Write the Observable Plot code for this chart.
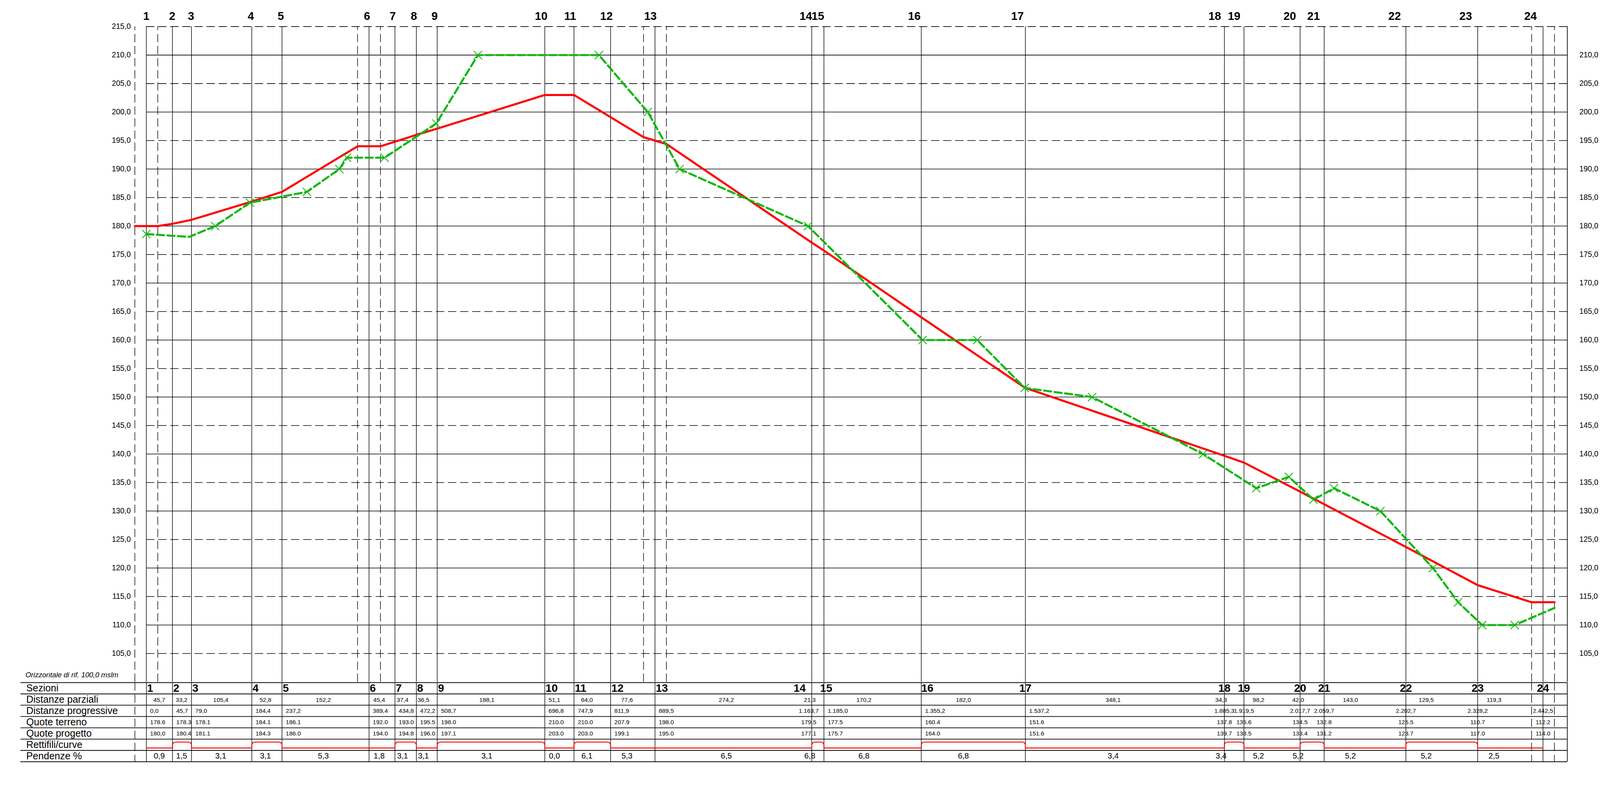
<!DOCTYPE html>
<html>
<head>
<meta charset="utf-8">
<script src="https://cdn.jsdelivr.net/npm/d3@7"></script>
<script src="https://cdn.jsdelivr.net/npm/@observablehq/plot@0.6"></script>
<style>
  html, body { margin: 0; padding: 0; background: #fff; }
  #chart svg { display: block; }
</style>
</head>
<body>
<div id="chart"></div>
<script>
// ---------------- DATA ----------------
const sectionNames = ["1","2","3","4","5","6","7","8","9","10","11","12","13","14","15","16","17","18","19","20","21","22","23","24"];
const progressive = [0.0, 45.7, 79.0, 184.4, 237.2, 389.4, 434.8, 472.2, 508.7, 696.8, 747.9, 811.9, 889.5, 1163.7, 1185.0, 1355.2, 1537.2, 1885.3, 1919.5, 2017.7, 2059.7, 2202.7, 2328.2, 2442.5];
const partial = [45.7, 33.2, 105.4, 52.8, 152.2, 45.4, 37.4, 36.5, 188.1, 51.1, 64.0, 77.6, 274.2, 21.3, 170.2, 182.0, 348.1, 34.3, 98.2, 42.0, 143.0, 129.5, 119.3];
const groundLevel = [178.6, 178.3, 178.1, 184.1, 186.1, 192.0, 193.0, 195.5, 198.0, 210.0, 210.0, 207.9, 198.0, 179.5, 177.5, 160.4, 151.6, 137.8, 135.6, 134.5, 132.8, 125.5, 110.7, 112.2];
const designLevel = [180.0, 180.4, 181.1, 184.3, 186.0, 194.0, 194.8, 196.0, 197.1, 203.0, 203.0, 199.1, 195.0, 177.1, 175.7, 164.0, 151.6, 139.7, 138.5, 133.4, 131.2, 123.7, 117.0, 114.0];
const slopes = [0.9, 1.5, 3.1, 3.1, 5.3, 1.8, 3.1, 3.1, 3.1, 0.0, 6.1, 5.3, 6.5, 6.8, 6.8, 6.8, 3.4, 3.4, 5.2, 5.2, 5.2, 5.2, 2.5];
const curvePairs = [[2,3],[4,5],[7,8],[9,10],[11,12],[14,15],[16,17],[18,19],[20,21],[22,23]];

// project profile (red) vertices
const profileD = [-20, 0, 20, 45.7, 79.0, 184.4, 237.2, 369.4, 389.4, 409.4, 434.8, 472.2, 508.7, 696.8, 747.9, 811.9, 869.5, 889.5, 909.5, 1163.7, 1185.0, 1355.2, 1537.2, 1885.3, 1919.5, 2017.7, 2059.7, 2202.7, 2328.2, 2422.5, 2442.5, 2462.5];
const profileZ = [180.0, 180.0, 180.0, 180.4, 181.1, 184.3, 186.0, 194.0, 194.0, 194.0, 194.8, 196.0, 197.1, 203.0, 203.0, 199.1, 195.6, 195.0, 194.4, 177.1, 175.7, 164.0, 151.6, 139.7, 138.5, 133.4, 131.2, 123.7, 117.0, 114.0, 114.0, 114.0];

// ground profile (green) vertices
const groundD = [0, 75, 120.4, 181.3, 280.8, 337.6, 350.7, 416.6, 507.1, 579.8, 791.5, 877, 932.6, 1157.2, 1357.4, 1453.1, 1536, 1654, 1848, 1941, 1998, 2041, 2077, 2158, 2250, 2294, 2336, 2393, 2462.5];
const groundZ = [178.6, 178.1, 180.0, 184.1, 186.0, 190.0, 192.0, 192.0, 198.0, 210.0, 210.0, 200.0, 190.0, 180.0, 160.0, 160.0, 151.6, 150.0, 140.0, 134.0, 136.0, 132.0, 134.0, 130.0, 120.0, 114.0, 110.0, 110.0, 113.0];
const groundMark = [true, false, true, true, true, true, true, true, true, true, true, true, true, true, true, true, true, true, true, true, true, true, true, true, true, true, true, true, false];

const tangentD = [20, 369.4, 409.4, 869.5, 909.5];
const limitD = [-20, 2422.5, 2462.5];
const endD = 2485;

const yTicks = [215, 210, 205, 200, 195, 190, 185, 180, 175, 170, 165, 160, 155, 150, 145, 140, 135, 130, 125, 120, 115, 110, 105];
const rowNames = ["Sezioni", "Distanze parziali", "Distanze progressive", "Quote terreno", "Quote progetto", "Rettifili/curve", "Pendenze %"];
const datumLabel = "Orizzontale di rif. 100,0 mslm";

// ---------------- HELPERS ----------------
const it = d3.formatLocale({decimal: ",", thousands: ".", grouping: [3], currency: ["", ""]});
const fDist = it.format(",.1f");
const fComma = it.format(".1f");
const fDot = d3.format(".1f");

const FONT = "'Liberation Sans', Arial, Helvetica, sans-serif";
const INK = "#000";
const DASH = "22,10";
const RED = "#ff0000";
const GREEN = "#10b810";
const xScale = {domain: [-219.9, endD], range: [54, 4153], axis: null};

const profile = profileD.map((d, i) => ({d, z: profileZ[i]}));
const ground = groundD.map((d, i) => ({d, z: groundZ[i], mark: groundMark[i]}));
const sectionIdx = d3.range(sectionNames.length);
const intervalIdx = d3.range(sectionNames.length - 1);

function roundedTop(radius) {
  return function(context) {
    let pts = [];
    return {
      areaStart() {}, areaEnd() {},
      lineStart() { pts = []; },
      point(x, y) { pts.push([+x, +y]); },
      lineEnd() {
        if (!pts.length) return;
        context.moveTo(pts[0][0], pts[0][1]);
        for (let i = 1; i < pts.length - 1; i++) {
          const [, py] = pts[i - 1], [x, y] = pts[i], [nx, ny] = pts[i + 1];
          const top = y <= py && y <= ny && (y < py || y < ny);
          if (top) context.arcTo(x, y, nx, ny, radius); else context.lineTo(x, y);
        }
        const last = pts[pts.length - 1];
        context.lineTo(last[0], last[1]);
      }
    };
  };
}

function textGroups(indices, rule, base) {
  return d3.groups(indices, rule).map(([key, idx]) => {
    const [anchor, dx] = key.split("|");
    return Plot.text(idx, {...base, textAnchor: anchor, dx: +dx});
  });
}
const sezRule = i => i <= 12 ? "start|2" : i === 13 ? "end|-16" : i === 14 ? "middle|6" : i === 15 ? "start|0" : "middle|0";
const valRule = i => (i <= 12 || (i >= 14 && i <= 16)) ? "start|10" : i === 13 ? "middle|-8" : "middle|0";
const midD = i => (progressive[i] + progressive[i + 1]) / 2 * 0.988;

// ---------------- PROFILE CHART ----------------
const chart = Plot.plot({
  width: 4240, height: 1808,
  marginTop: 70, marginBottom: 0, marginLeft: 54, marginRight: 87,
  x: xScale,
  y: {domain: [100, 215], range: [1808, 70], axis: null},
  style: {fontFamily: FONT, background: "#fff", overflow: "visible", color: INK},
  marks: [
    Plot.ruleY(yTicks.filter(v => v % 10 === 0), {y: v => v, x1: () => progressive[0], x2: () => endD, stroke: INK, strokeWidth: 1.6}),
    Plot.ruleY(yTicks.filter(v => v % 10 !== 0), {y: v => v, x1: () => progressive[0], x2: () => endD, stroke: INK, strokeWidth: 1.6, strokeDasharray: DASH}),
    Plot.ruleX(progressive, {x: d => d, y1: () => 100, y2: () => 215, stroke: INK, strokeWidth: 1.5}),
    Plot.ruleX(tangentD.concat(limitD), {x: d => d, y1: () => 100, y2: () => 215, stroke: INK, strokeWidth: 1.5, strokeDasharray: DASH}),
    Plot.ruleX([endD], {x: d => d, y1: () => 100, y2: () => 215, stroke: INK, strokeWidth: 1.8}),
    Plot.line(profile, {x: "d", y: "z", stroke: RED, strokeWidth: 5.5, strokeLinejoin: "round"}),
    Plot.line(ground, {x: "d", y: "z", stroke: GREEN, strokeWidth: 5.5, strokeDasharray: "19,9"}),
    Plot.dot(ground.filter(p => p.mark), {x: "d", y: "z", symbol: "times", r: 10, stroke: GREEN, strokeWidth: 2.2}),
    Plot.text(sectionNames, {x: (s, i) => progressive[i] * 0.991, y: () => 215, text: s => s, lineAnchor: "bottom", dy: -18, fontSize: 30, fontWeight: "bold", fill: "#000"}),
    Plot.text(yTicks, {x: () => limitD[0], y: v => v, text: v => fComma(v), textAnchor: "end", dx: -11, fontSize: 20, fill: "#000"}),
    Plot.text(yTicks.filter(v => v < 215), {x: () => endD, y: v => v, text: v => fComma(v), textAnchor: "start", dx: 32, fontSize: 20, fill: "#000"}),
    Plot.text([datumLabel], {frameAnchor: "bottom-left", text: d => d, textAnchor: "start", dx: 13, dy: -13, fontSize: 19, fontStyle: "italic", fill: "#000"})
  ]
});

// ---------------- TABLE ----------------
const LOW = 5.78, HIGH = 5.26;
const alignPts = [{d: progressive[0], y: LOW}];
for (const [a, b] of curvePairs) {
  const da = progressive[a - 1], db = progressive[b - 1];
  alignPts.push({d: da, y: LOW}, {d: da, y: HIGH}, {d: db, y: HIGH}, {d: db, y: LOW});
}
alignPts.push({d: progressive[progressive.length - 1], y: LOW});

const table = Plot.plot({
  width: 4240, height: 231,
  marginTop: 1, marginBottom: 20, marginLeft: 54, marginRight: 87,
  x: xScale,
  y: {domain: [0, rowNames.length], range: [1, 211], axis: null},
  style: {fontFamily: FONT, background: "#fff", overflow: "visible", color: INK},
  marks: [
    Plot.ruleY(d3.range(rowNames.length + 1), {y: d => d, stroke: INK, strokeWidth: 2}),
    Plot.ruleX(progressive, {x: d => d, y1: () => 0, y2: () => rowNames.length, stroke: INK, strokeWidth: 1.5}),
    Plot.ruleX(limitD, {x: d => d, y1: () => 0, y2: () => rowNames.length, stroke: INK, strokeWidth: 1.5, strokeDasharray: DASH}),
    Plot.ruleX([endD], {x: d => d, y1: () => 0, y2: () => rowNames.length, stroke: INK, strokeWidth: 1.8}),
    Plot.text(rowNames, {y: (r, i) => i + 0.5, text: r => r, frameAnchor: "left", textAnchor: "start", dx: 15, fontSize: 26, fill: "#000"}),
    ...textGroups(sectionIdx, sezRule, {x: i => progressive[i], y: () => 0.5, text: i => sectionNames[i], fontSize: 29, fontWeight: "bold", fill: "#000"}),
    Plot.text(intervalIdx, {x: midD, y: () => 1.55, text: i => fDist(partial[i]), fontSize: 16, fill: "#000"}),
    ...textGroups(sectionIdx, valRule, {x: i => progressive[i], y: () => 2.5, text: i => fDist(progressive[i]), fontSize: 16, fill: "#000"}),
    ...textGroups(sectionIdx, valRule, {x: i => progressive[i], y: () => 3.5, text: i => fDot(groundLevel[i]), fontSize: 16, fill: "#000"}),
    ...textGroups(sectionIdx, valRule, {x: i => progressive[i], y: () => 4.5, text: i => (i === 0 ? fComma : fDot)(designLevel[i]), fontSize: 16, fill: "#000"}),
    Plot.line(alignPts, {x: "d", y: "y", stroke: RED, strokeWidth: 2.5, curve: roundedTop(8)}),
    Plot.text(intervalIdx, {x: midD, y: () => 6.5, text: i => fComma(slopes[i]), fontSize: 21, fill: "#000"})
  ]
});

const root = document.getElementById("chart");
root.append(chart, table);
</script>
</body>
</html>
